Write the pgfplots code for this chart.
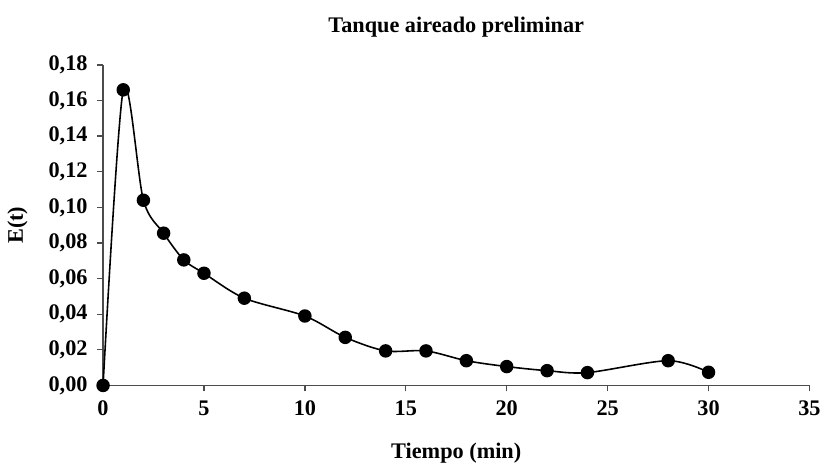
\documentclass[border=0pt]{standalone}
\usepackage{fontspec}
\setmainfont{Liberation Serif}
\usepackage{pgfplots}
\pgfplotsset{compat=1.18}
\begin{document}
\fontsize{22.5}{27}\selectfont\bfseries
\begin{tikzpicture}
\begin{axis}[
  scale only axis,
  width=714pt, height=324pt,
  xmin=0, xmax=35, ymin=0, ymax=0.18,
  axis x line*=bottom, axis y line*=left,
  axis line style={draw=black!70, line width=1.3pt},
  xtick={0,5,...,35},
  ytick={0,0.02,...,0.18},
  tick align=outside,
  major tick length=6pt,
  tick style={draw=black!70, line width=1.3pt},
  minor tick num=0,
  /pgf/number format/assume math mode=true,
  /pgf/number format/use comma,
  yticklabel style={/pgf/number format/fixed, /pgf/number format/fixed zerofill, /pgf/number format/precision=2, font=\fontsize{22.5}{27}\selectfont\bfseries, xshift=-2pt},
  xticklabel style={font=\fontsize{22.5}{27}\selectfont\bfseries, yshift=-2pt},
  scaled y ticks=false,
  title={Tanque aireado preliminar},
  title style={font=\fontsize{22.5}{27}\selectfont\bfseries, yshift=14pt},
  xlabel={Tiempo (min)},
  ylabel={E(t)},
  label style={font=\fontsize{22.5}{27}\selectfont\bfseries},
  xlabel style={yshift=-12pt},
  ylabel style={yshift=6pt},
  clip=false,
]
\addplot[black, line width=1.6pt, smooth, tension=0.5, mark=*, mark size=6pt, mark options={fill=black}] coordinates {
(0,0) (1,0.166) (2,0.104) (3,0.0855) (4,0.0705) (5,0.063) (7,0.049) (10,0.039) (12,0.027) (14,0.0194) (16,0.0194) (18,0.0139) (20,0.0106) (22,0.0083) (24,0.0072) (28,0.0139) (30,0.0074)
};
\end{axis}
\path (current bounding box.north west) ++(0,10pt);
\path (current bounding box.south east) ++(0,-4pt);
\end{tikzpicture}
\end{document}
